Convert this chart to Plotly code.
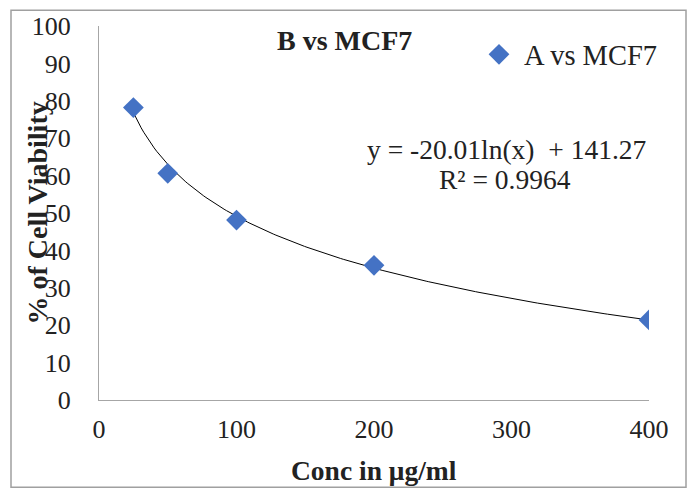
import numpy as np
import plotly.graph_objects as go

# Data
conc = [25, 50, 100, 200, 400]
viability = [78.2, 60.6, 48.1, 36.0, 21.4]
series_name = "A vs MCF7"
chart_title = "B vs MCF7"
x_title = "Conc in μg/ml"
y_title = "% of Cell Viability"
fit_slope = -20.01
fit_intercept = 141.27
r_squared = 0.9964
x_ticks = [0, 100, 200, 300, 400]
y_ticks = [0, 10, 20, 30, 40, 50, 60, 70, 80, 90, 100]

FONT = "Liberation Serif, Times New Roman, serif"
TXT = "#222222"

fig = go.Figure()

# Logarithmic trendline drawn from the fitted coefficients
tx = np.linspace(min(conc), max(conc), 200)
ty = fit_slope * np.log(tx) + fit_intercept
fig.add_trace(go.Scatter(x=tx, y=ty, mode="lines",
                         line=dict(color="black", width=1),
                         showlegend=False, hoverinfo="skip"))

fig.add_trace(go.Scatter(x=conc, y=viability, mode="markers", name=series_name,
                         marker=dict(symbol="diamond", size=16, color="#4472C4")))

W, H = 691, 490
L, R, T, B = 99, 42, 23, 90
pw, ph = W - L - R, H - T - B

def px(x):
    return (x - L) / pw

def py(y):
    return (H - B - y) / ph

def note(text, x, y, size, angle=0):
    return dict(text=text, x=px(x), y=py(y), xref="paper", yref="paper",
                xanchor="center", yanchor="middle", showarrow=False,
                textangle=angle, font=dict(size=size, family=FONT, color=TXT))

fig.update_layout(
    width=W, height=H, autosize=False,
    margin=dict(l=L, r=R, t=T, b=B),
    paper_bgcolor="white", plot_bgcolor="white",
    font=dict(family=FONT, color=TXT, size=26),
    showlegend=True,
    legend=dict(x=px(474), y=py(52), xanchor="left", yanchor="middle",
                font=dict(size=28.5, family=FONT, color=TXT),
                bgcolor="rgba(0,0,0,0)", itemwidth=40),
    xaxis=dict(range=[0, 400], tickvals=x_ticks, showgrid=False, zeroline=False,
               showline=True, linecolor="#a6a6a6", linewidth=1,
               ticks="outside", ticklen=6, tickcolor="rgba(0,0,0,0)",
               tickfont=dict(size=26, family=FONT, color=TXT)),
    yaxis=dict(range=[0, 100], tickvals=y_ticks, showgrid=False, zeroline=False,
               showline=True, linecolor="#a6a6a6", linewidth=1,
               ticks="outside", ticklen=22, tickcolor="rgba(0,0,0,0)",
               tickfont=dict(size=26, family=FONT, color=TXT)),
    shapes=[dict(type="rect", xref="paper", yref="paper",
                 x0=px(11), x1=px(686), y0=py(488), y1=py(7),
                 line=dict(color="#a0a0a0", width=1.5), fillcolor="rgba(0,0,0,0)",
                 layer="below")],
    annotations=[
        note("<b>" + chart_title + "</b>", 344, 38, 28),
        note("<b>" + x_title + "</b>", 374, 471, 27.5),
        note("<b>" + y_title + "</b>", 37, 212, 28, angle=-90),
        note(f"y = -{abs(fit_slope):.2f}ln(x)  + {fit_intercept:.2f}", 506, 147, 27.5),
        note(f"R² = {r_squared:.4f}", 505, 178, 27.5),
    ],
)

fig.write_html("out.html", config={"displayModeBar": False},
               post_script="document.body.style.margin='0';")
